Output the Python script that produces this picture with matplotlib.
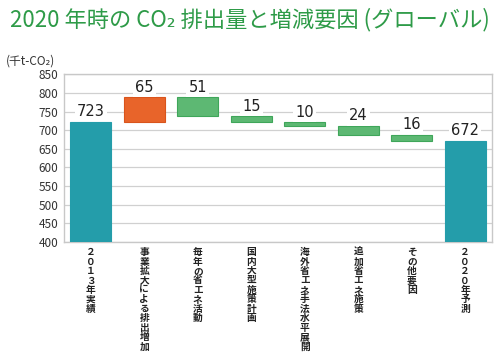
import matplotlib
matplotlib.use("Agg")
import matplotlib.pyplot as plt
import numpy as np

plt.rcParams['font.family'] = ['Noto Sans CJK JP', 'DejaVu Sans']

# Data
categories = ["２０１３年実績", "事業拡大による排出増加", "毎年の省エネ活動", "国内大型施策計画",
              "海外省エネ手法水平展開", "追加省エネ施策", "その他要因", "２０２０年予測"]
changes = [723, 65, -51, -15, -10, -24, -16, 672]
labels = ["723", "65", "51", "15", "10", "24", "16", "672"]

# Colors
TEAL = '#249DAA'
ORANGE = '#E8642A'
GREEN = '#5DB873'
GREEN_EDGE = '#3FA65A'
TITLE_GREEN = '#2E9B48'

fig = plt.figure(figsize=(5.0, 3.57), dpi=100)
ax = fig.add_axes([0.128, 0.322, 0.856, 0.47])

x = np.arange(len(categories))
bottoms, heights, colors, edges = [], [], [], []
running = 0
for i, c in enumerate(changes):
    if i == 0 or i == len(changes) - 1:
        bottoms.append(0)
        heights.append(c)
        colors.append(TEAL)
        edges.append(TEAL)
        running = c
    elif c > 0:
        bottoms.append(running)
        heights.append(c)
        colors.append(ORANGE)
        edges.append('#D9541C')
        running += c
    else:
        running += c
        bottoms.append(running)
        heights.append(-c)
        colors.append(GREEN)
        edges.append(GREEN_EDGE)

ax.bar(x, heights, bottom=bottoms, width=0.76, color=colors, edgecolor=edges,
       linewidth=0.8, zorder=3)

for xi, b, h, lab in zip(x, bottoms, heights, labels):
    ax.text(xi, b + h + 6, lab, ha='center', va='bottom', fontsize=10.5,
            family='DejaVu Sans', color='#222222', zorder=4,
            bbox=dict(facecolor='white', edgecolor='none', pad=1.5))

ax.set_ylim(400, 850)
ax.set_xlim(-0.5, len(categories) - 0.5)
ax.set_yticks(np.arange(400, 851, 50))
ax.tick_params(axis='y', labelsize=8.5, length=0, pad=4, labelcolor='#333333')
ax.set_xticks([])
ax.grid(True, axis='y', color='#D0D0D0', linewidth=0.9, zorder=0)
for s in ax.spines.values():
    s.set_color('#C8C8C8')
    s.set_linewidth(1.0)

# vertical category labels, characters stacked upright
for xi, cat in zip(x, categories):
    ax.text(xi, -0.03, "\n".join(cat), transform=ax.get_xaxis_transform(),
            ha='center', va='top', fontsize=7, linespacing=0.93,
            fontweight='bold', color='#222222')

fig.text(0.5, 0.945, "2020 年時の CO₂ 排出量と増減要因 (グローバル)", ha='center',
         va='center', fontsize=16, color=TITLE_GREEN)
fig.text(0.012, 0.83, "(千t-CO₂)", ha='left', va='center', fontsize=8.5, color='#333333')

fig.savefig("out.png", dpi=100)
